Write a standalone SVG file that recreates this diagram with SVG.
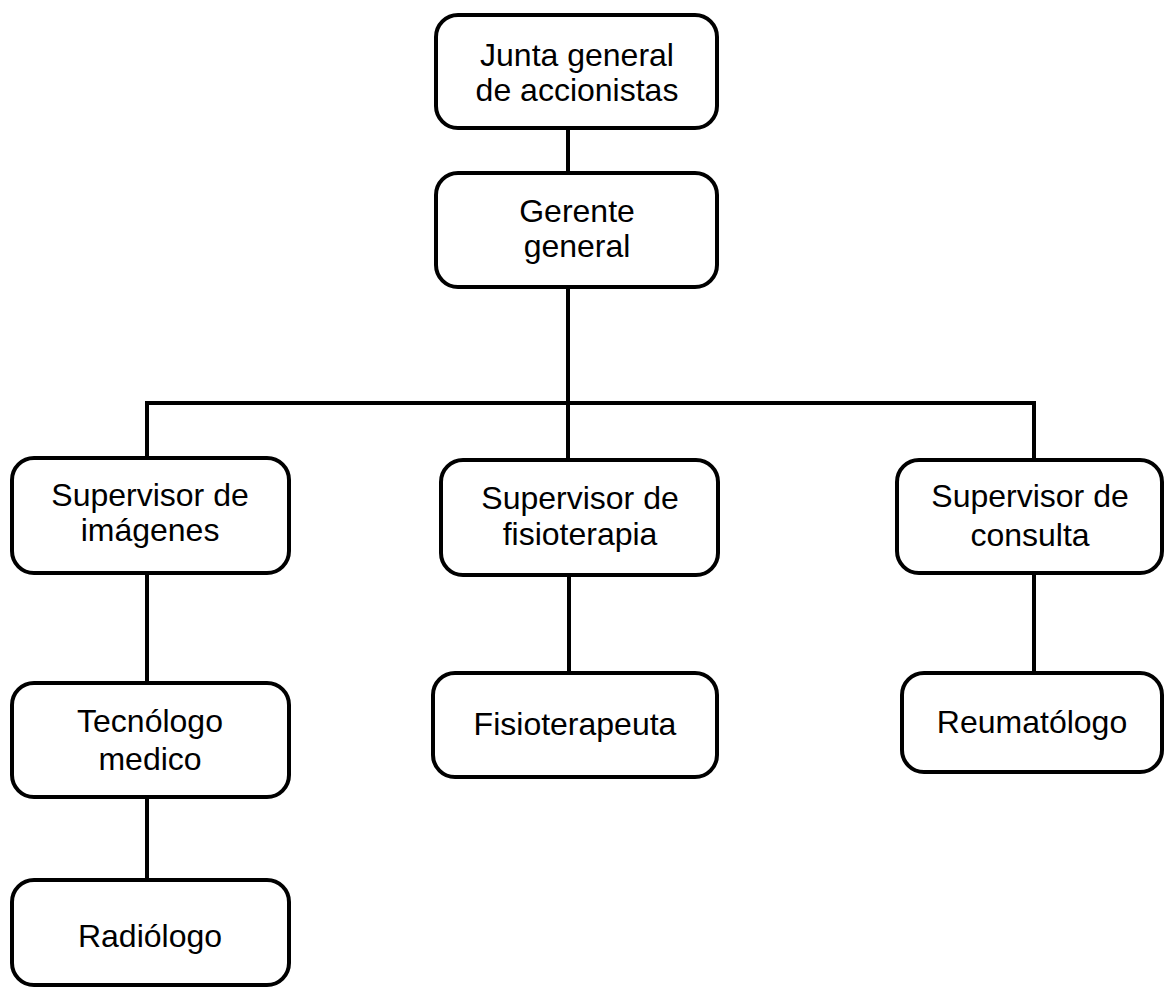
<svg xmlns="http://www.w3.org/2000/svg" width="1164" height="989" viewBox="0 0 1164 989">
<style>
.box{fill:#fff;stroke:#000;stroke-width:4}
.ln{stroke:#000;stroke-width:4;fill:none}
text{font-family:"Liberation Sans",Arial,sans-serif;font-size:32px;fill:#000;text-anchor:middle}
</style>
<rect width="1164" height="989" fill="#fff"/>
<g id="connectors">
<line class="ln" x1="568" y1="128" x2="568" y2="173"/>
<line class="ln" x1="568" y1="287" x2="568" y2="460"/>
<polyline class="ln" points="147,458 147,403 1034,403 1034,460"/>
<line class="ln" x1="147" y1="573" x2="147" y2="683"/>
<line class="ln" x1="147" y1="797" x2="147" y2="880"/>
<line class="ln" x1="569" y1="575" x2="569" y2="673"/>
<line class="ln" x1="1034" y1="573" x2="1034" y2="673"/>
</g>
<g id="junta">
<rect class="box" x="436" y="15" width="281" height="113" rx="22"/>
<text x="577" y="66">Junta general</text>
<text x="577" y="101">de accionistas</text>
</g>
<g id="gerente">
<rect class="box" x="436" y="173" width="281" height="114" rx="22"/>
<text x="577" y="222">Gerente</text>
<text x="577" y="257">general</text>
</g>
<g id="sup-imagenes">
<rect class="box" x="12" y="458" width="277" height="115" rx="22"/>
<text x="150" y="506">Supervisor de</text>
<text x="150" y="541">imágenes</text>
</g>
<g id="sup-fisioterapia">
<rect class="box" x="441" y="460" width="277" height="115" rx="22"/>
<text x="580" y="509">Supervisor de</text>
<text x="580" y="545">fisioterapia</text>
</g>
<g id="sup-consulta">
<rect class="box" x="897" y="460" width="265" height="113" rx="22"/>
<text x="1030" y="507">Supervisor de</text>
<text x="1030" y="546">consulta</text>
</g>
<g id="tecnologo">
<rect class="box" x="12" y="683" width="277" height="114" rx="22"/>
<text x="150" y="732">Tecnólogo</text>
<text x="150" y="770">medico</text>
</g>
<g id="radiologo">
<rect class="box" x="12" y="880" width="277" height="105" rx="22"/>
<text x="150" y="947">Radiólogo</text>
</g>
<g id="fisioterapeuta">
<rect class="box" x="433" y="673" width="284" height="104" rx="22"/>
<text x="575" y="735">Fisioterapeuta</text>
</g>
<g id="reumatologo">
<rect class="box" x="902" y="673" width="260" height="99" rx="22"/>
<text x="1032" y="733">Reumatólogo</text>
</g>
</svg>
